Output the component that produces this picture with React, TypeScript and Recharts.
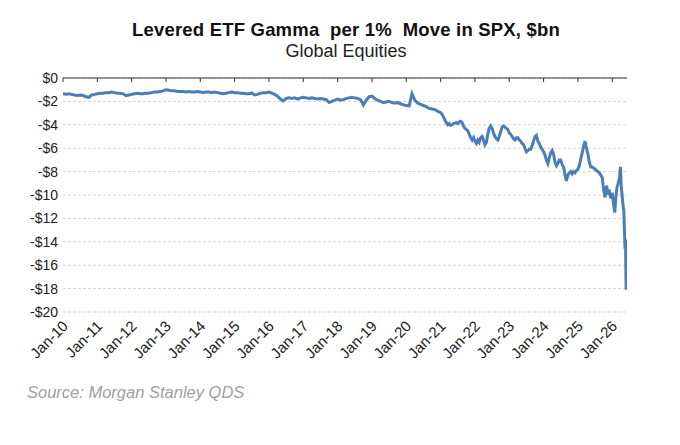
import { CartesianGrid, Line, LineChart, XAxis, YAxis } from 'recharts';

// monthly readings, Jan..Dec, $bn
const gamma2010 = [-1.35, -1.38, -1.35, -1.4, -1.45, -1.5, -1.45, -1.5, -1.6, -1.65, -1.45, -1.4];
const gamma2011 = [-1.35, -1.3, -1.3, -1.25, -1.25, -1.2, -1.25, -1.3, -1.3, -1.35, -1.5, -1.45];
const gamma2012 = [-1.4, -1.35, -1.3, -1.35, -1.35, -1.3, -1.3, -1.25, -1.2, -1.2, -1.15, -1.1];
const gamma2013 = [-1.0, -1.05, -1.1, -1.1, -1.15, -1.15, -1.15, -1.2, -1.15, -1.2, -1.2, -1.15];
const gamma2014 = [-1.2, -1.25, -1.2, -1.2, -1.25, -1.2, -1.25, -1.3, -1.35, -1.3, -1.25, -1.2];
const gamma2015 = [-1.25, -1.25, -1.3, -1.3, -1.35, -1.35, -1.3, -1.45, -1.4, -1.3, -1.25, -1.25];
const gamma2016 = [-1.2, -1.3, -1.4, -1.55, -1.8, -1.95, -1.75, -1.7, -1.75, -1.7, -1.8, -1.7];
const gamma2017 = [-1.65, -1.7, -1.75, -1.7, -1.75, -1.8, -1.75, -1.8, -1.85, -2.1, -2.0, -1.9];
const gamma2018 = [-1.8, -1.9, -1.85, -1.75, -1.7, -1.65, -1.7, -1.75, -1.85, -2.3, -1.9, -1.6];
const gamma2019 = [-1.55, -1.75, -1.9, -2.0, -2.1, -2.05, -2.0, -2.1, -2.15, -2.1, -2.2, -2.3];
const gamma2020 = [-2.35, -2.4, -1.35, -1.9, -2.15, -2.25, -2.35, -2.45, -2.6, -2.65, -2.7, -2.85];

// twice a month (1st and 16th), $bn
const gamma2021 = [-2.95, -3.1, -3.3, -3.6, -3.8, -4.0, -3.9, -4.05, -4.0, -3.9, -3.85, -3.8,
  -3.9, -3.75, -3.7, -3.8, -4.1, -4.3, -4.4, -4.5, -4.8, -5.1, -5.3, -5.1];
const gamma2022 = [-5.4, -5.6, -5.3, -5.5, -5.1, -5.0, -5.3, -5.7, -5.5, -4.8, -4.3, -4.1,
  -4.3, -4.7, -5.0, -5.2, -5.3, -5.0, -4.6, -4.2, -4.1, -4.2, -4.3, -4.4];
const gamma2023 = [-4.7, -4.8, -5.0, -5.2, -5.3, -5.1, -5.1, -5.3, -5.4, -5.6, -5.7, -6.0,
  -6.3, -6.2, -6.1, -6.1, -5.8, -5.4, -5.0, -4.9, -5.4, -5.6, -5.9, -6.1];
const gamma2024 = [-6.3, -6.6, -7.0, -7.3, -6.8, -6.4, -6.2, -6.5, -7.2, -7.5, -7.3, -7.0,
  -7.0, -7.4, -7.6, -8.3, -8.8, -8.3, -8.1, -8.0, -8.2, -8.0, -8.1, -7.9];
const gamma2025 = [-7.8, -7.5, -6.9, -6.4, -5.8, -5.4, -6.0, -6.5, -7.2, -7.6, -7.6, -7.7,
  -7.8, -7.9, -8.0, -8.1, -8.3, -8.5, -9.6, -10.2, -9.2, -9.8, -9.7, -10.3];

// 2026 tail, daily-ish readings
const dates2026 = ['2026-01-01', '2026-01-15', '2026-01-28', '2026-02-08', '2026-02-20', '2026-03-03',
  '2026-03-15', '2026-03-28', '2026-04-05', '2026-04-14', '2026-04-24', '2026-05-03', '2026-05-10',
  '2026-05-15', '2026-05-20', '2026-05-27'];
const gamma2026 = [-9.8, -10.8, -11.5, -10.3, -9.4, -9.0, -8.6, -7.6, -9.2, -10.0, -10.8, -11.4, -13.3,
  -14.6, -13.8, -18.1];

const monthly = [gamma2010, gamma2011, gamma2012, gamma2013, gamma2014, gamma2015, gamma2016,
  gamma2017, gamma2018, gamma2019, gamma2020];
const twiceMonthly = [gamma2021, gamma2022, gamma2023, gamma2024, gamma2025];

const xTicks = [2010, 2011, 2012, 2013, 2014, 2015, 2016, 2017, 2018, 2019, 2020, 2021, 2022, 2023, 2024, 2025, 2026];
const yTicks = [0, -2, -4, -6, -8, -10, -12, -14, -16, -18, -20];

const toYear = (d: string) => {
  const [y, m, day] = d.split('-').map(Number);
  return y + (m - 1) / 12 + (day - 1) / 365;
};

const data: { t: number; v: number }[] = [];
monthly.forEach((vals, i) => {
  vals.forEach((v, m) => data.push({ t: 2010 + i + m / 12, v }));
});
twiceMonthly.forEach((vals, i) => {
  vals.forEach((v, k) => {
    const m = Math.floor(k / 2) + 1;
    const day = k % 2 === 0 ? 1 : 16;
    data.push({ t: toYear(`${2021 + i}-${m}-${day}`), v });
  });
});
dates2026.forEach((d, i) => data.push({ t: toYear(d), v: gamma2026[i] }));

const font = '"Liberation Sans", Arial, sans-serif';

const XTick = ({ x, y, payload }: any) => {
  const label = `Jan-${String(payload.value % 100).padStart(2, '0')}`;
  const ax = x + 6;
  const ay = y + 7;
  return (
    <text x={ax} y={ay} transform={`rotate(-45 ${ax} ${ay})`} textAnchor="end"
          fontSize={15} fill="#222" fontFamily={font}>
      {label}
    </text>
  );
};

const NoLabel = () => <g />;

const fmtY = (v: number) => (v < 0 ? `-$${-v}` : `$${v}`);

export default function App() {
  return (
    <div style={{ position: 'relative', width: 664, height: 420, fontFamily: font }}>
      <div style={{ position: 'absolute', top: 11, left: 338, transform: 'translateX(-50%)',
        whiteSpace: 'pre', fontWeight: 'bold', fontSize: 18.5, letterSpacing: 0.2, color: '#111' }}>
        {'Levered ETF Gamma  per 1%  Move in SPX, $bn'}
      </div>
      <div style={{ position: 'absolute', top: 33, left: 338, transform: 'translateX(-50%)',
        whiteSpace: 'pre', fontSize: 18, color: '#222' }}>
        Global Equities
      </div>
      <LineChart width={664} height={380} data={data} margin={{ top: 70, right: 45, left: 5, bottom: 26 }}>
        <CartesianGrid vertical={false} stroke="#d4d4d4" strokeDasharray="3 2" />
        <XAxis xAxisId="top" orientation="top" mirror dataKey="t" type="number"
               domain={[2010, 2026.43]} allowDataOverflow ticks={xTicks} interval={0}
               tick={<NoLabel />} tickSize={4} stroke="#333" />
        <XAxis dataKey="t" type="number" domain={[2010, 2026.43]} allowDataOverflow
               ticks={xTicks} axisLine={false} tickLine={false} height={50}
               interval={0} tick={<XTick />} />
        <YAxis domain={[-20, 0]} ticks={yTicks} width={50} axisLine={false} tickLine={false}
               tickSize={0} tickMargin={5} interval={0} tickFormatter={fmtY}
               tick={{ fontSize: 14, fill: '#222', fontFamily: font }} />
        <Line dataKey="v" stroke="#4a7ebb" strokeWidth={3} dot={false}
              isAnimationActive={false} />
      </LineChart>
      <div style={{ position: 'absolute', top: 375, left: 19, fontStyle: 'italic',
        fontSize: 16.5, color: '#a0a0a0' }}>
        Source: Morgan Stanley QDS
      </div>
    </div>
  );
}
